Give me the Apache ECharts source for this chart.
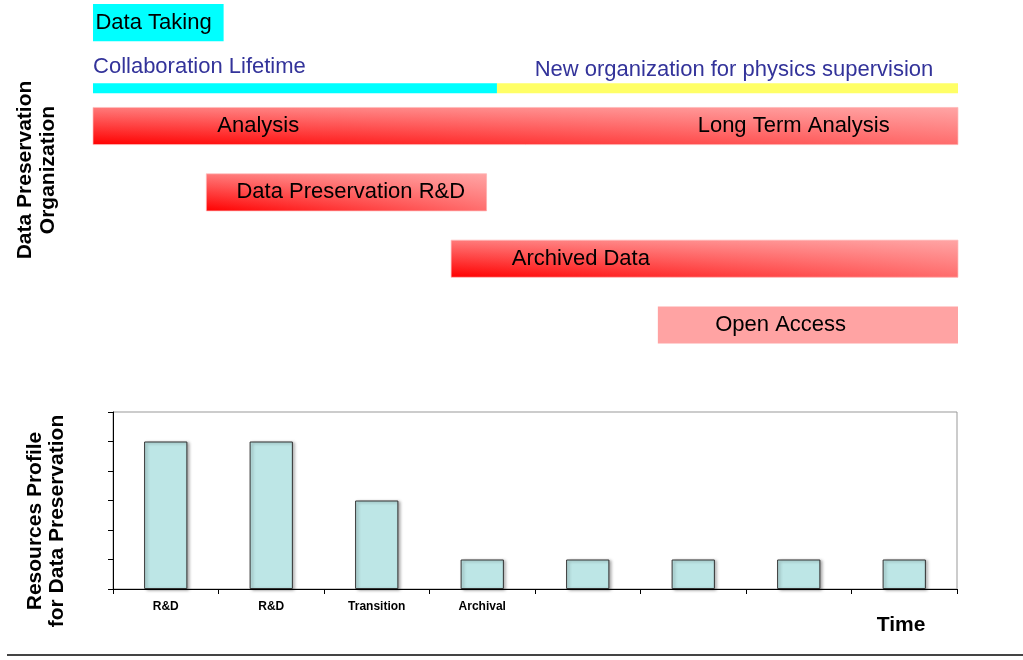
<!DOCTYPE html>
<html>
<head>
<meta charset="utf-8">
<script src="https://cdn.jsdelivr.net/npm/echarts@6/dist/echarts.min.js"></script>
<style>
  html, body { margin: 0; padding: 0; background: #fff; }
  #chart { width: 1023px; height: 660px; }
</style>
</head>
<body>
<div id="chart"></div>
<script>
// timeline bars (time in arbitrary units 0..100, lane = row on the chart)
const taskNames = ['Data Taking', 'Collaboration Lifetime', 'New organization', 'Analysis', 'Data Preservation R&D', 'Archived Data', 'Open Access'];
const taskStart = [0, 0, 46.7, 0, 13.1, 41.4, 65.3];
const taskEnd = [15.1, 46.7, 100, 100, 45.5, 100, 100];
const taskLane = [0.44, 1.43, 1.43, 2, 3, 4, 5];

// timeline texts
const labelTexts = ['Data Taking', 'Collaboration Lifetime', 'New organization for physics supervision', 'Analysis', 'Long Term Analysis', 'Data Preservation R&D', 'Archived Data', 'Open Access'];
const labelAt = [7.0, 12.3, 74.1, 19.1, 81.0, 29.8, 56.4, 79.5];
const labelLane = [0.45, 1.11, 1.16, 2, 2, 3, 4, 5];

// resources profile
const phases = ['R&D', 'R&D', 'Transition', 'Archival', '', '', '', ''];
const resourceLevels = [5, 5, 3, 1, 1, 1, 1, 1];

const FONT = '"Liberation Sans", Arial, Helvetica, sans-serif';

// look of each timeline bar
const barLook = {
  'Data Taking': { kind: 'flat', color: '#00FFFF', thick: true },
  'Collaboration Lifetime': { kind: 'flat', color: '#00FFFF', thick: false },
  'New organization': { kind: 'flat', color: '#FFFF66', thick: false },
  'Analysis': { kind: 'grad', thick: true },
  'Data Preservation R&D': { kind: 'grad', thick: true },
  'Archived Data': { kind: 'grad', thick: true },
  'Open Access': { kind: 'flat', color: '#FFA3A3', thick: true }
};
const blueText = ['Collaboration Lifetime', 'New organization for physics supervision'];

function renderTask(params, api) {
  const look = barLook[taskNames[params.dataIndex]];
  const a = api.coord([api.value(0), api.value(2)]);
  const b = api.coord([api.value(1), api.value(2)]);
  const h = api.size([0, look.thick ? 0.56 : 0.15])[1];
  const shape = { x: a[0], y: a[1] - h / 2, width: b[0] - a[0], height: h };
  if (look.kind === 'flat') {
    return { type: 'rect', shape: shape, style: { fill: look.color } };
  }
  return {
    type: 'group',
    children: [
      {
        type: 'rect', shape: shape,
        style: {
          fill: new echarts.graphic.LinearGradient(0, 1, 0, 0, [
            { offset: 0, color: '#FF0000' },
            { offset: 1, color: '#FF7A7A' }
          ])
        }
      },
      {
        type: 'rect', shape: shape,
        style: {
          fill: new echarts.graphic.LinearGradient(0, 0, 1, 0, [
            { offset: 0, color: 'rgba(255,199,199,0)' },
            { offset: 1, color: 'rgba(255,199,199,0.55)' }
          ]),
          stroke: 'rgba(255,190,190,0.7)',
          lineWidth: 1
        }
      }
    ]
  };
}

function renderLabel(params, api) {
  const p = api.coord([api.value(0), api.value(1)]);
  const txt = labelTexts[params.dataIndex];
  return {
    type: 'text',
    x: p[0],
    y: p[1],
    style: {
      text: txt,
      fill: blueText.indexOf(txt) >= 0 ? '#33339A' : '#000000',
      font: '22px ' + FONT,
      align: 'center',
      verticalAlign: 'middle'
    }
  };
}

const chart = echarts.init(document.getElementById('chart'));

const option = {
  backgroundColor: '#ffffff',
  animation: false,
  grid: [
    { left: 93, right: 65, top: 0, height: 398 },
    { left: 113, right: 66, top: 412, bottom: 71, show: true, borderColor: '#999999', borderWidth: 1 }
  ],
  xAxis: [
    { gridIndex: 0, type: 'value', min: 0, max: 100, show: false },
    {
      gridIndex: 1,
      type: 'category',
      data: phases,
      axisLine: { lineStyle: { color: '#000', width: 1 } },
      axisTick: { show: true, interval: 0, length: 5, lineStyle: { color: '#000' } },
      axisLabel: { interval: 0, color: '#000', fontWeight: 'bold', fontSize: 12, fontFamily: FONT, margin: 12 },
      splitLine: { show: false }
    }
  ],
  yAxis: [
    { gridIndex: 0, type: 'value', min: 0.1, max: 6.1, inverse: true, show: false },
    {
      gridIndex: 1,
      type: 'value',
      min: 0,
      max: 6,
      interval: 1,
      axisLine: { show: true, lineStyle: { color: '#000', width: 1 } },
      axisTick: { show: true, length: 5, lineStyle: { color: '#000' } },
      axisLabel: { show: false },
      splitLine: { show: false }
    }
  ],
  graphic: [
    {
      type: 'text', x: 36.5, y: 170, rotation: Math.PI / 2,
      style: { text: 'Data Preservation\nOrganization', font: 'bold 21px ' + FONT, fill: '#000', align: 'center', verticalAlign: 'middle', lineHeight: 23 }
    },
    {
      type: 'text', x: 46, y: 521, rotation: Math.PI / 2,
      style: { text: 'Resources Profile\nfor Data Preservation', font: 'bold 21px ' + FONT, fill: '#000', align: 'center', verticalAlign: 'middle', lineHeight: 22 }
    },
    {
      type: 'text', x: 901, y: 625,
      style: { text: 'Time', font: 'bold 21px ' + FONT, fill: '#000', align: 'center', verticalAlign: 'middle' }
    },
    {
      type: 'line', shape: { x1: 7, y1: 655, x2: 1023, y2: 655 },
      style: { stroke: '#444', lineWidth: 2 }
    }
  ],
  series: [
    {
      type: 'custom',
      xAxisIndex: 0,
      yAxisIndex: 0,
      renderItem: renderTask,
      clip: false,
      data: taskStart.map((s, i) => [s, taskEnd[i], taskLane[i]])
    },
    {
      type: 'custom',
      xAxisIndex: 0,
      yAxisIndex: 0,
      renderItem: renderLabel,
      clip: false,
      z: 5,
      data: labelAt.map((x, i) => [x, labelLane[i]])
    },
    {
      type: 'bar',
      xAxisIndex: 1,
      yAxisIndex: 1,
      barWidth: '41%',
      data: resourceLevels,
      itemStyle: {
        color: '#BDE6E6',
        borderColor: '#333',
        borderWidth: 1,
        shadowColor: 'rgba(0,0,0,0.35)',
        shadowBlur: 3,
        shadowOffsetX: 2,
        shadowOffsetY: 1
      }
    }
  ]
};

chart.setOption(option);
</script>
</body>
</html>
